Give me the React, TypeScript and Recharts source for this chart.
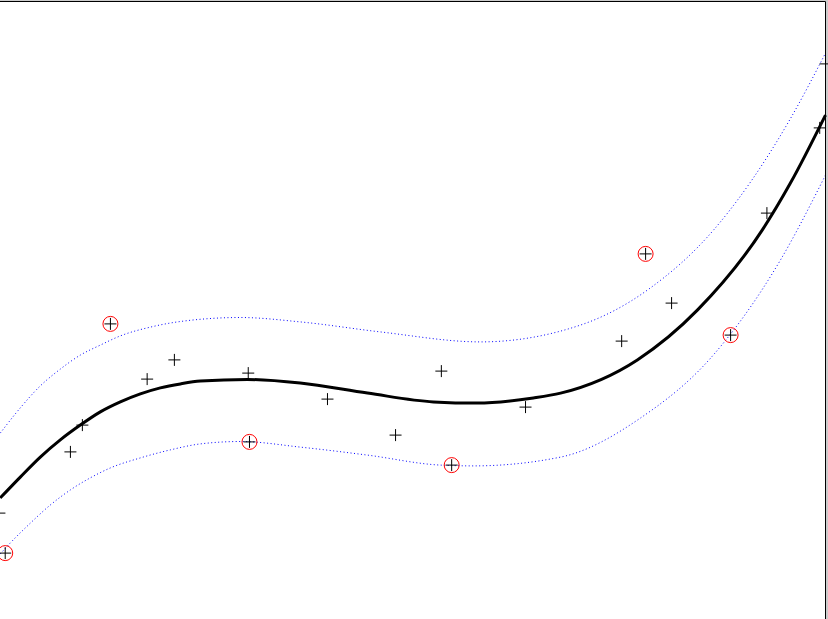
import { ComposedChart, Line, Scatter, XAxis, YAxis, ReferenceLine } from "recharts";

// observed samples
const samples = [
  { x: -0.02, y: 3.21 },
  { x: 0.12, y: 2.21 },
  { x: 1.7, y: 4.74 },
  { x: 1.99, y: 5.41 },
  { x: 2.67, y: 7.94 },
  { x: 3.56, y: 6.56 },
  { x: 4.22, y: 7.04 },
  { x: 6.01, y: 6.71 },
  { x: 6.04, y: 4.99 },
  { x: 7.93, y: 6.06 },
  { x: 9.58, y: 5.16 },
  { x: 10.69, y: 6.76 },
  { x: 10.94, y: 4.41 },
  { x: 12.73, y: 5.86 },
  { x: 15.06, y: 7.51 },
  { x: 15.64, y: 9.69 },
  { x: 16.27, y: 8.46 },
  { x: 17.7, y: 7.66 },
  { x: 18.58, y: 10.71 },
  { x: 19.86, y: 12.84 },
  { x: 20.0, y: 14.44 },
];

// samples outside the bounds
const outliers = [
  { x: 0.12, y: 2.21 },
  { x: 2.67, y: 7.94 },
  { x: 6.04, y: 4.99 },
  { x: 10.94, y: 4.41 },
  { x: 15.64, y: 9.69 },
  { x: 17.7, y: 7.66 },
];

// fitted curve
const fit = [
  { x: 0, y: 3.59 },
  { x: 0.485, y: 4.11 },
  { x: 0.97, y: 4.61 },
  { x: 1.455, y: 5.04 },
  { x: 1.94, y: 5.41 },
  { x: 2.425, y: 5.74 },
  { x: 2.91, y: 5.99 },
  { x: 3.395, y: 6.19 },
  { x: 3.88, y: 6.34 },
  { x: 4.365, y: 6.44 },
  { x: 4.85, y: 6.51 },
  { x: 5.99, y: 6.55 },
  { x: 7.27, y: 6.46 },
  { x: 8.9, y: 6.21 },
  { x: 10.5, y: 5.99 },
  { x: 11.56, y: 5.96 },
  { x: 12.92, y: 6.09 },
  { x: 13.58, y: 6.21 },
  { x: 15.44, y: 7.04 },
  { x: 16.9, y: 8.29 },
  { x: 18.47, y: 10.29 },
  { x: 19.15, y: 11.46 },
  { x: 20.0, y: 13.16 },
];

const upperBound = [
  { x: 0, y: 5.21 },
  { x: 0.485, y: 5.84 },
  { x: 0.97, y: 6.39 },
  { x: 1.455, y: 6.81 },
  { x: 1.94, y: 7.16 },
  { x: 2.425, y: 7.41 },
  { x: 2.91, y: 7.64 },
  { x: 3.64, y: 7.86 },
  { x: 4.365, y: 8.0 },
  { x: 5.82, y: 8.1 },
  { x: 7.27, y: 7.99 },
  { x: 9.21, y: 7.74 },
  { x: 11.64, y: 7.49 },
  { x: 14.06, y: 7.91 },
  { x: 15.69, y: 8.79 },
  { x: 17.29, y: 10.29 },
  { x: 19.16, y: 13.09 },
  { x: 20.0, y: 14.71 },
];

const lowerBound = [
  { x: 0, y: 2.19 },
  { x: 0.24, y: 2.46 },
  { x: 0.73, y: 2.96 },
  { x: 1.21, y: 3.41 },
  { x: 1.7, y: 3.79 },
  { x: 2.18, y: 4.09 },
  { x: 2.67, y: 4.34 },
  { x: 3.395, y: 4.59 },
  { x: 4.12, y: 4.79 },
  { x: 4.85, y: 4.94 },
  { x: 5.82, y: 5.0 },
  { x: 7.27, y: 4.86 },
  { x: 8.9, y: 4.66 },
  { x: 10.67, y: 4.41 },
  { x: 11.47, y: 4.39 },
  { x: 13.58, y: 4.61 },
  { x: 15.52, y: 5.59 },
  { x: 17.22, y: 7.09 },
  { x: 18.91, y: 9.54 },
  { x: 20.0, y: 11.66 },
];

const PlusMark = (props: any) => {
  const { cx, cy } = props;
  return (
    <g>
      <line x1={cx - 6} y1={cy} x2={cx + 6} y2={cy} stroke="#000" strokeWidth={1} />
      <line x1={cx} y1={cy - 6} x2={cx} y2={cy + 6} stroke="#000" strokeWidth={1} />
    </g>
  );
};

const RingMark = (props: any) => {
  const { cx, cy } = props;
  return <circle cx={cx} cy={cy} r={7.5} fill="none" stroke="#ff0000" strokeWidth={1} />;
};

const App = () => {
  return (
    <div
      style={{
        position: "fixed",
        left: 0,
        top: 0,
        width: 828,
        height: 619,
        background: "#cccccc",
        overflow: "hidden",
      }}
    >
      {/* white axes area */}
      <div style={{ position: "absolute", left: 0, top: 1, width: 826, height: 640, background: "#fff" }} />
      <div style={{ position: "absolute", left: -41, top: 1 }}>
        <ComposedChart
          width={869}
          height={641}
          margin={{ top: 0.5, right: 2.5, bottom: 0.5, left: 0 }}
        >
          <XAxis dataKey="x" type="number" domain={[-1, 20]} hide />
          <YAxis type="number" domain={[0, 16]} hide />

          {/* prediction bounds */}
          <Line
            data={upperBound}
            dataKey="y"
            type="monotone"
            stroke="#0000ff"
            strokeWidth={1}
            strokeDasharray="1 2.5"
            dot={false}
            activeDot={false}
            isAnimationActive={false}
          />
          <Line
            data={lowerBound}
            dataKey="y"
            type="monotone"
            stroke="#0000ff"
            strokeWidth={1}
            strokeDasharray="1 2.5"
            dot={false}
            activeDot={false}
            isAnimationActive={false}
          />

          {/* fit */}
          <Line
            data={fit}
            dataKey="y"
            type="monotone"
            stroke="#000"
            strokeWidth={3}
            dot={false}
            activeDot={false}
            isAnimationActive={false}
          />

          <Scatter data={samples} dataKey="y" shape={PlusMark} isAnimationActive={false} />
          <Scatter data={outliers} dataKey="y" shape={RingMark} isAnimationActive={false} />

          <ReferenceLine y={16} stroke="#000" strokeWidth={1} />
          <ReferenceLine x={20} stroke="#000" strokeWidth={1} />
        </ComposedChart>
      </div>
    </div>
  );
};

export default App;
